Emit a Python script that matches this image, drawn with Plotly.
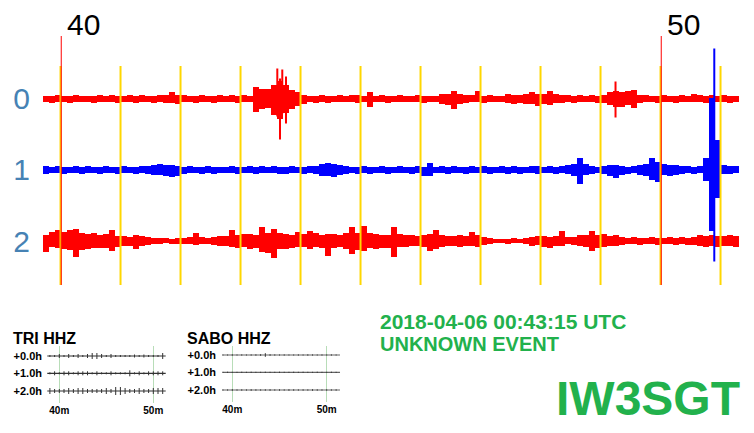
import plotly.graph_objects as go

# page body has an 8px default margin: the figure is drawn 8px in from the top-left corner
OX, OY = 8, 8
W, H = 754 - OX, 433 - OY

# ---------------- data ----------------
# main helicorder: 0.1-minute bins starting at minute 39.7, envelope amplitudes in px (up / down)
bin_start = 39.7
bin_step = 0.1

row0_up = [3,3,4,3,3,4,3,3,3,4, 3,4,3,3,4,3,4,3,3,4, 4,7,4,4,3,3,4,3,3,4,
           3,4,3,4,3,12,10,10,14,18, 14,9,7,4,3,3,4,3,3,4, 3,4,4,3,7,3,4,3,3,4,
           3,3,4,3,3,3,5,5,8,5, 4,4,8,3,4,3,3,5,4,4, 5,7,5,5,8,5,4,4,3,4,
           3,4,3,4,7,8,7,8,9,4, 4,3,3,4,3,3,4,3,5,4, 3,4,3,4,3,3]
row0_dn = [3,4,3,3,4,3,3,3,4,3, 3,3,4,3,3,4,3,3,4,3, 4,4,5,3,3,4,3,3,4,3,
           3,3,4,3,3,13,10,9,16,20, 14,10,7,5,3,4,3,4,3,3, 3,3,4,3,8,3,3,4,3,3,
           3,3,3,4,3,3,5,6,10,5, 4,3,3,4,3,3,3,4,5,4, 5,5,7,5,6,4,4,3,4,3,
           3,3,4,4,6,8,8,6,9,4, 3,3,4,3,3,4,3,3,3,3, 4,3,3,3,4,3]

row1_up = [4,3,4,3,3,4,3,4,3,3, 4,3,3,4,3,3,4,4,5,6, 5,5,4,3,4,3,3,4,3,3,
           3,4,3,3,4,3,4,3,4,3, 3,4,3,3,4,4,6,7,6,5, 4,3,3,4,3,3,4,3,3,4,
           3,3,4,3,7,3,4,3,4,3, 3,4,3,4,3,3,4,3,4,3, 3,4,4,3,4,3,4,5,6,12,
           6,4,3,4,5,5,4,3,4,5, 6,12,8,6,5,5,4,4,3,4, 12,72,30,5,4,4]
row1_dn = [4,3,3,4,3,3,4,3,3,4, 3,3,4,3,3,4,3,4,5,5, 6,7,6,4,3,3,4,3,4,3,
           3,3,4,3,3,4,3,3,3,4, 4,3,3,4,3,4,6,6,7,5, 4,3,4,3,4,3,3,4,3,3,
           3,4,3,6,6,3,3,4,3,3, 4,3,3,3,4,3,3,4,3,4, 3,3,4,3,3,4,3,4,6,14,
           5,4,3,4,6,8,5,4,3,5, 6,10,12,5,6,5,4,3,4,3, 11,61,28,4,4,3]

row2_up = [6,9,11,9,11,12,8,7,8,6, 7,11,5,5,4,6,5,4,3,3, 3,2,3,3,4,8,4,3,4,5,
           5,11,6,7,7,6,14,8,12,8, 7,6,9,7,10,8,6,7,7,6, 8,14,8,15,8,7,6,6,14,7,
           6,6,5,6,7,11,6,5,5,6, 5,9,6,4,3,2,2,2,3,2, 3,4,5,5,4,5,10,4,4,6,
           6,10,6,7,5,6,4,3,4,3, 3,4,3,3,4,3,4,3,4,6, 5,6,5,5,6,5]
row2_dn = [11,6,7,8,9,16,9,8,7,7, 7,10,6,5,5,8,5,4,3,3, 2,3,3,3,3,4,3,3,4,5,
           5,6,7,6,8,7,11,12,17,8, 8,7,6,6,8,6,7,15,7,6, 8,13,9,10,7,8,7,7,16,6,
           6,5,5,6,10,8,6,5,5,6, 5,5,6,4,3,2,2,3,2,2, 3,5,4,6,7,5,5,3,4,5,
           6,10,7,6,5,5,4,3,3,4, 3,3,4,3,3,4,3,4,4,5, 6,5,6,5,5,6]

# isolated thin peaks (row index, minute, up px, down px)
spike_row = [0, 0, 0, 0, 0, 1]
spike_min = [43.605, 43.650, 43.688, 43.750, 49.242, 50.888]
spike_up = [30, 20, 29, 22, 17, 121]
spike_dn = [18, 41, 15, 25, 19, 92]

row_labels = ["0", "1", "2"]
row_colors = ["#FF0000", "#0000FF", "#FF0000"]
minute_marks = [40, 50]
grid_minutes = list(range(40, 52))

# inset helicorders: 0.5-minute bins starting at minute 38.75, amplitudes in px
inset_bin_start = 38.75
inset_bin_step = 0.5
tri_rows = [
    [1,1,2,1,2,1,2,1,2,3,3,2,1,2,1,1,1,1,1.5,1,1.5,1,1,1,3],
    [1,2,1,2,2,1,2,2,2,1,2,1,1,2,1,1,1,3,1,2,1,2,2,2,2],
    [3,2,2,2,3,2,3,3,2,2,2,2,3,2,4,4,3,2,2,3,2,2,3,3,3],
]
sabo_rows = [
    [0.6,0.5,0.7,0.5,0.6,0.5,0.6,0.7,0.8,1.8,0.8,0.6,0.5,0.6,0.5,0.5,0.6,0.5,0.7,0.6,0.5,0.6,0.5,0.6,0.5],
    [0.5,0.6,0.5,0.5,0.6,0.5,0.6,0.5,0.5,0.6,0.5,0.5,0.6,0.5,0.5,0.6,0.5,0.6,0.5,0.5,0.6,0.5,0.5,0.6,0.5],
    [0.7,0.6,0.8,0.6,0.7,0.6,0.8,0.7,0.6,0.7,0.8,0.6,0.7,0.6,0.8,0.7,0.6,0.7,0.6,0.8,0.7,0.6,0.7,0.6,0.7],
]
inset_row_labels = ["+0.0h", "+1.0h", "+2.0h"]
inset_tick_vals = [40, 50]
inset_tick_text = ["40m", "50m"]

date_text = "2018-04-06 00:43:15 UTC"
event_text = "UNKNOWN EVENT"
station_text = "IW3SGT"

# ---------------- layout helpers (absolute page pixels -> paper) ----------------
def px(x):
    return (x - OX) / W

def py(y):
    return 1 - (y - OY) / H

FONT = "Arial, Liberation Sans, sans-serif"
GREEN = "#22B14C"

fig = go.Figure()

# main rows: baseline y positions (negative page-pixel coordinates)
row_base = [-98.5, -169.5, -241.0]
rows = [(row0_up, row0_dn), (row1_up, row1_dn), (row2_up, row2_dn)]
centers = [bin_start + bin_step * (i + 0.5) for i in range(len(row0_up))]

for r in [0, 2, 1]:
    up, dn = rows[r]
    fig.add_trace(go.Bar(
        x=centers, y=[u + d for u, d in zip(up, dn)], base=[row_base[r] - d for d in dn],
        width=bin_step, marker=dict(color=row_colors[r], line=dict(width=0)),
        hoverinfo="skip", showlegend=False, xaxis="x", yaxis="y"))
    xs, ys = [], []
    for k in range(len(spike_row)):
        if spike_row[k] == r:
            xs += [spike_min[k], spike_min[k], None]
            ys += [row_base[r] - spike_dn[k], row_base[r] + spike_up[k], None]
    if xs:
        fig.add_trace(go.Scatter(x=xs, y=ys, mode="lines", line=dict(color=row_colors[r], width=2),
                                 hoverinfo="skip", showlegend=False, xaxis="x", yaxis="y"))

# insets
def add_inset(rows_amp, bases, t0, t1, xa, ya, base_color):
    for base, amps in zip(bases, rows_amp):
        fig.add_trace(go.Scatter(x=[t0, t1], y=[base, base], mode="lines",
                                 line=dict(color=base_color, width=1.2), hoverinfo="skip",
                                 showlegend=False, xaxis=xa, yaxis=ya))
        xs, ys = [], []
        for i, a in enumerate(amps):
            c = inset_bin_start + inset_bin_step * (i + 0.5)
            if c < t0 or c > t1:
                continue
            xs += [c, c, None]
            ys += [base - a, base + a, None]
        fig.add_trace(go.Scatter(x=xs, y=ys, mode="lines", line=dict(color="#333333", width=1),
                                 hoverinfo="skip", showlegend=False, xaxis=xa, yaxis=ya))

tri_base = [-356.0, -373.3, -391.0]
sabo_base = [-355.0, -372.3, -390.0]
add_inset(tri_rows, tri_base, 38.72, 51.32, "x2", "y2", "#333333")
add_inset(sabo_rows, sabo_base, 38.98, 51.41, "x3", "y3", "#666666")

# shapes: yellow minute lines and red hour marks
shapes = []
for m in grid_minutes:
    shapes.append(dict(type="line", xref="x", yref="y", x0=m - 0.008, x1=m - 0.008, y0=-66, y1=-285,
                       line=dict(color="#FFD700", width=2), layer="above"))
for m in minute_marks:
    shapes.append(dict(type="line", xref="x", yref="y", x0=m + 0.004, x1=m + 0.004, y0=-36, y1=-285,
                       line=dict(color="#FF0000", width=1), layer="above"))

annotations = []
for m in minute_marks:
    annotations.append(dict(x=m, y=-24, xref="x", yref="y", text=str(m), showarrow=False,
                            xanchor="left", yanchor="middle", xshift=4,
                            font=dict(family=FONT, size=30, color="black")))

def txt(x, y, s, size, color="black", bold=True):
    annotations.append(dict(x=px(x), y=py(y), xref="paper", yref="paper",
                            text=("<b>%s</b>" % s) if bold else s, showarrow=False,
                            xanchor="left", yanchor="middle",
                            font=dict(family=FONT, size=size, color=color)))

txt(11, 338, "TRI HHZ", 16)
txt(185, 338, "SABO HHZ", 16)
txt(378, 321.5, date_text, 21, GREEN)
txt(378, 344, event_text, 20, GREEN)
txt(554, 398, station_text, 48, GREEN)

fig.update_layout(
    width=W, height=H, margin=dict(l=0, r=0, t=0, b=0),
    paper_bgcolor="white", plot_bgcolor="rgba(0,0,0,0)", barmode="overlay", bargap=0,
    shapes=shapes, annotations=annotations, showlegend=False,
    xaxis=dict(domain=[px(35), 1], range=[40 + (35 - 61) / 60, 40 + (754 - 61) / 60],
               showgrid=False, zeroline=False, showticklabels=False, ticks=""),
    yaxis=dict(domain=[py(290), 1], range=[-290, -OY], showgrid=False, zeroline=False,
               tickvals=row_base, ticktext=row_labels, ticks="", ticklabelstandoff=4,
               tickfont=dict(family=FONT, size=30, color="#4682B4")),
    xaxis2=dict(domain=[px(45), px(172)], range=[40 + (45 - 59.3) / 9.4, 40 + (172 - 59.3) / 9.4],
                anchor="y2", showgrid=True, gridcolor="#B8DDB8", gridwidth=1, zeroline=False,
                tickvals=inset_tick_vals, ticktext=["<b>%s</b>" % t for t in inset_tick_text], ticks="",
                tickfont=dict(family=FONT, size=10, color="black")),
    yaxis2=dict(domain=[py(403), py(346)], range=[-403, -346], anchor="x2", showgrid=False, zeroline=False,
                tickvals=tri_base, ticktext=["<b>%s</b>" % t for t in inset_row_labels], ticks="",
                ticklabelstandoff=2, tickfont=dict(family=FONT, size=11, color="black")),
    xaxis3=dict(domain=[px(219), px(345)], range=[40 + (219 - 232.3) / 9.44, 40 + (345 - 232.3) / 9.44],
                anchor="y3", showgrid=True, gridcolor="#B8DDB8", gridwidth=1, zeroline=False,
                tickvals=inset_tick_vals, ticktext=["<b>%s</b>" % t for t in inset_tick_text], ticks="",
                tickfont=dict(family=FONT, size=10, color="black")),
    yaxis3=dict(domain=[py(402), py(346)], range=[-402, -346], anchor="x3", showgrid=False, zeroline=False,
                tickvals=sabo_base, ticktext=["<b>%s</b>" % t for t in inset_row_labels], ticks="",
                ticklabelstandoff=2, tickfont=dict(family=FONT, size=11, color="black")),
)

fig.write_html("out.html")
